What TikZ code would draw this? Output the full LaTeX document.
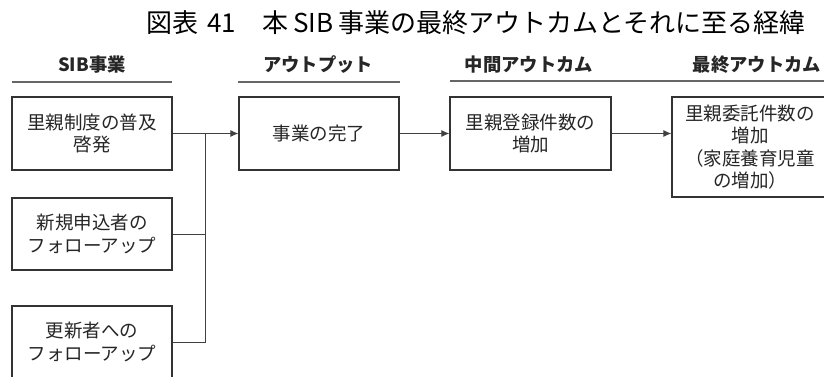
\documentclass[tikz,border=0pt]{standalone}
\usepackage{fontspec}
\setmainfont{Noto Sans CJK JP}
\newfontfamily\cjk{Noto Sans CJK JP}
\usetikzlibrary{arrows.meta}
\begin{document}
\begin{tikzpicture}[x=1pt,y=-1pt,
  box/.style={draw=black!80, line width=1.3pt, minimum width=160pt, minimum height=73pt,
    inner sep=2pt, align=center, font=\cjk\fontsize{18.5}{22.5}\selectfont, text=black!85},
  hdr/.style={font=\cjk\bfseries\fontsize{18.3}{20}\selectfont, text=black!85, inner sep=0pt},
  hline/.style={draw=black!60, line width=1.3pt},
  conn/.style={draw=black!75, line width=0.9pt},
  arr/.style={conn, -{Latex[length=8pt,width=7pt]}}]
\useasboundingbox (0,0) rectangle (824,376);
\fill[white] (0,0) rectangle (824,376);
% title
\node[font=\cjk\fontsize{26}{30}\selectfont, inner sep=0pt, anchor=center] (title) at (476,23)
  {図表\hspace{0.35em}41\hspace{1em}本\hspace{0.2em}SIB\hspace{0.2em}事業の最終アウトカムとそれに至る経緯};
% headers
\node[hdr] (h1) at (92,65) {SIB事業};
\node[hdr] (h2) at (318,65) {アウトプット};
\node[hdr] (h3) at (529,65) {中間アウトカム};
\node[hdr] (h4) at (757,65) {最終アウトカム};
\draw[hline] (12,82) -- (172,82);
\draw[hline] (238,82) -- (400,82);
\draw[hline] (450,81) -- (664,81);
\draw[hline] (664,81) -- (824,81);
% boxes
\node[box] (b1) at (92,133.5) {里親制度の普及\\啓発};
\node[box, minimum height=72pt] (b2) at (92,234) {新規申込者の\\フォローアップ};
\node[box, minimum height=72pt] (b3) at (92,342) {更新者への\\フォローアップ};
\node[box] (out) at (319,133.5) {事業の完了};
\node[box, minimum width=161pt] (mid) at (530.5,133.5) {里親登録件数の\\増加};
\node[box, minimum width=156pt, minimum height=100pt] (fin) at (750,147)
  {里親委託件数の\\増加\\（家庭養育児童\\の増加）};
% connectors
\coordinate (j1) at (205,133.5);
\coordinate (j2) at (205,234);
\coordinate (j3) at (205,342);
\draw[conn] (b1.east) -- (j1);
\draw[conn] (b2.east) -- (j2);
\draw[conn] (b3.east) -- (j3) -- (j1);
\draw[arr] (j1) -- (out.west);
\draw[arr] (out.east) -- (mid.west);
\draw[arr] (mid.east) -- (mid.east -| fin.west);
\end{tikzpicture}
\end{document}
